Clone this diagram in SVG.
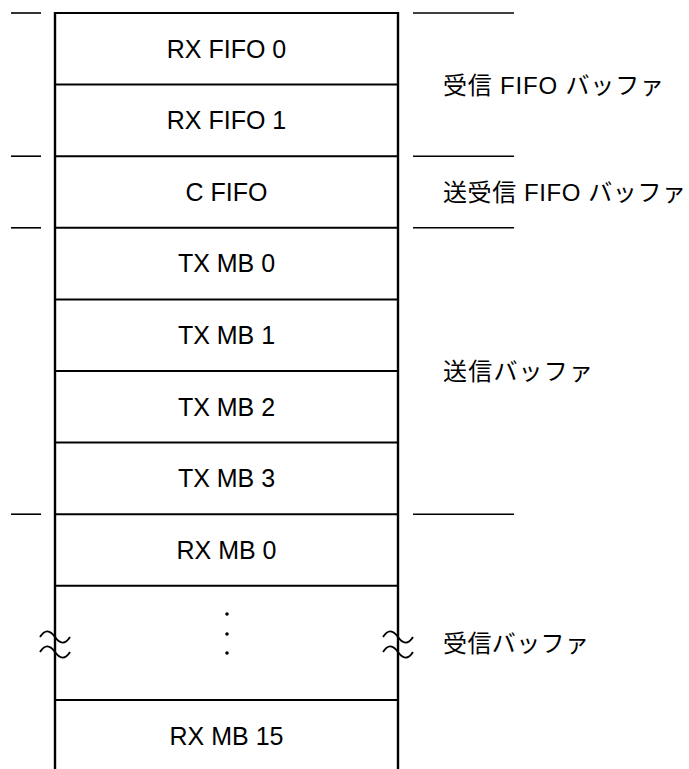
<svg xmlns="http://www.w3.org/2000/svg" width="689" height="769" viewBox="0 0 689 769">
<style>
.ln{stroke:#000;stroke-width:2;fill:none}
.vl{stroke:#000;stroke-width:2.4;fill:none}
.tk{stroke:#000;stroke-width:1.6;fill:none}
.wv{stroke:#000;stroke-width:1.9;fill:none}
.cell{font-family:"Liberation Sans",Arial,sans-serif;font-size:25px;fill:#000;text-anchor:middle}
.lab{font-family:"Liberation Sans","Noto Sans CJK JP",sans-serif;font-size:24px;fill:#000}
</style>
<rect width="689" height="769" fill="#fff"/>
<g id="connectors">
<line class="vl" x1="55" y1="12" x2="55" y2="769"/>
<line class="vl" x1="398" y1="12" x2="398" y2="769"/>
<line class="ln" x1="54" y1="13" x2="399" y2="13"/>
<line class="ln" x1="55" y1="84.6" x2="398" y2="84.6"/>
<line class="ln" x1="55" y1="156.2" x2="398" y2="156.2"/>
<line class="ln" x1="55" y1="227.8" x2="398" y2="227.8"/>
<line class="ln" x1="55" y1="299.4" x2="398" y2="299.4"/>
<line class="ln" x1="55" y1="371" x2="398" y2="371"/>
<line class="ln" x1="55" y1="442.6" x2="398" y2="442.6"/>
<line class="ln" x1="55" y1="514.2" x2="398" y2="514.2"/>
<line class="ln" x1="55" y1="585.8" x2="398" y2="585.8"/>
<line class="ln" x1="55" y1="700" x2="398" y2="700"/>
<line class="tk" x1="11" y1="13" x2="41" y2="13"/>
<line class="tk" x1="11" y1="156.2" x2="41" y2="156.2"/>
<line class="tk" x1="11" y1="227.8" x2="41" y2="227.8"/>
<line class="tk" x1="11" y1="514.2" x2="41" y2="514.2"/>
<line class="tk" x1="413" y1="13" x2="514" y2="13"/>
<line class="tk" x1="413" y1="156.2" x2="514" y2="156.2"/>
<line class="tk" x1="413" y1="227.8" x2="514" y2="227.8"/>
<line class="tk" x1="413" y1="514.2" x2="514" y2="514.2"/>
<path class="wv" d="M40,637 c5,-8 10,-7 15,0 s10,8 15,0 M40,652 c5,-8 10,-7 15,0 s10,8 15,0"/>
<path class="wv" d="M383,637 c5,-8 10,-7 15,0 s10,8 15,0 M383,652 c5,-8 10,-7 15,0 s10,8 15,0"/>
</g>
<g id="rxfifo0"><text class="cell" x="226.5" y="57.6">RX FIFO 0</text></g>
<g id="rxfifo1"><text class="cell" x="226.5" y="129.2">RX FIFO 1</text></g>
<g id="cfifo"><text class="cell" x="226.5" y="200.8">C FIFO</text></g>
<g id="txmb0"><text class="cell" x="226.5" y="272.4">TX MB 0</text></g>
<g id="txmb1"><text class="cell" x="226.5" y="344">TX MB 1</text></g>
<g id="txmb2"><text class="cell" x="226.5" y="415.6">TX MB 2</text></g>
<g id="txmb3"><text class="cell" x="226.5" y="487.2">TX MB 3</text></g>
<g id="rxmb0"><text class="cell" x="226.5" y="558.8">RX MB 0</text></g>
<g id="dots">
<circle cx="227" cy="614" r="1.8"/>
<circle cx="227" cy="634" r="1.8"/>
<circle cx="227" cy="653" r="1.8"/>
</g>
<g id="rxmb15"><text class="cell" x="226.5" y="745">RX MB 15</text></g>
<g id="label-rxfifo"><text class="lab" x="443" y="94" textLength="221" lengthAdjust="spacing">受信 FIFO バッファ</text></g>
<g id="label-cfifo"><text class="lab" x="443" y="201" textLength="243" lengthAdjust="spacing">送受信 FIFO バッファ</text></g>
<g id="label-tx"><text class="lab" x="443" y="380" textLength="150" lengthAdjust="spacing">送信バッファ</text></g>
<g id="label-rx"><text class="lab" x="443" y="652" textLength="146" lengthAdjust="spacing">受信バッファ</text></g>
</svg>
